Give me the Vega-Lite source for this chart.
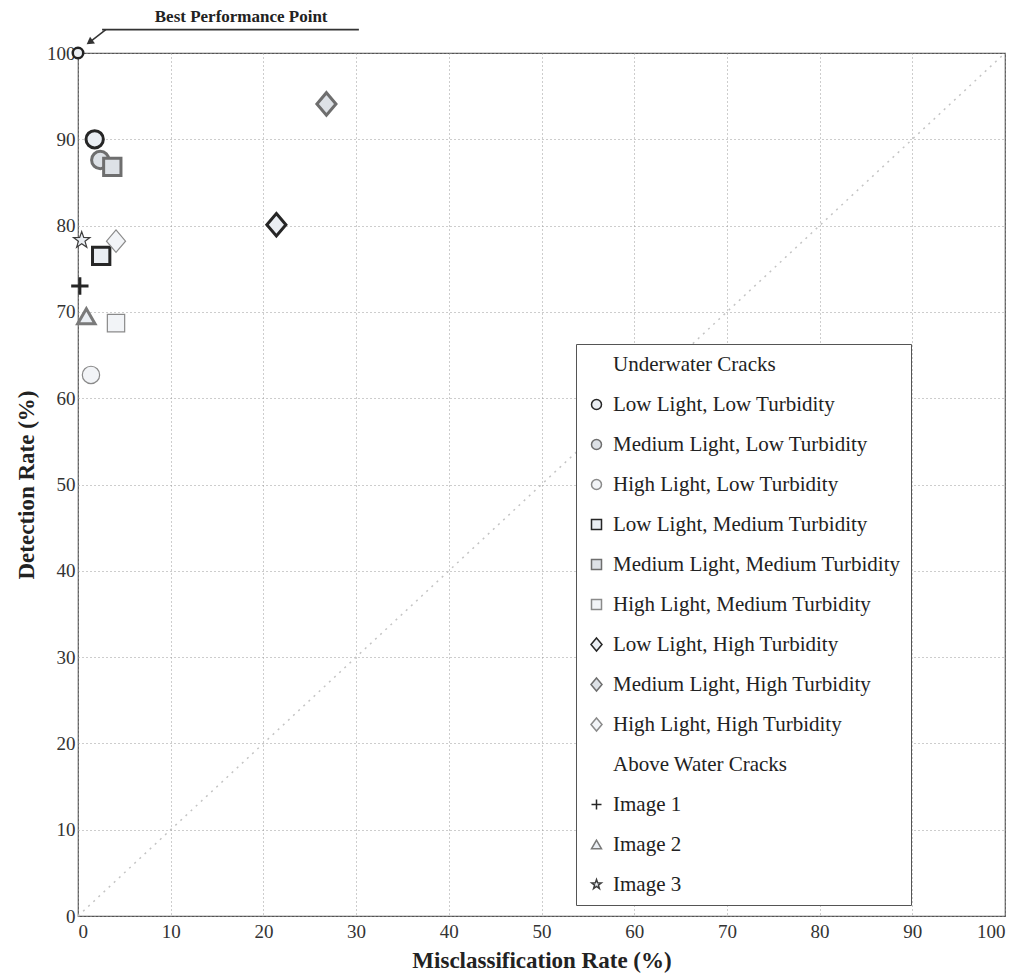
{
  "$schema": "https://vega.github.io/schema/vega-lite/v6.json",
  "width": 927,
  "height": 863,
  "autosize": "none",
  "padding": {"left": 78, "top": 53, "right": 18, "bottom": 62},
  "background": "white",
  "title": {"text": "ROC Space", "font": "Liberation Serif", "fontSize": 25, "fontWeight": "bold", "color": "#222", "anchor": "middle", "offset": 19},
  "config": {
    "view": {"stroke": "#555", "strokeWidth": 1.2},
    "axis": {"labelFont": "Liberation Serif", "titleFont": "Liberation Serif", "labelColor": "#333", "titleColor": "#222"},
    "legend": {
      "strokeColor": "#555", "fillColor": "white", "padding": 10,
      "labelFont": "Liberation Serif", "labelFontSize": 21, "labelColor": "#222",
      "rowPadding": 18, "labelOffset": 6, "labelLimit": 500
    }
  },
  "datasets": {
    "roc": [
      {"series": "Low Light, Low Turbidity", "mis": 1.8, "det": 90.0},
      {"series": "Medium Light, Low Turbidity", "mis": 2.4, "det": 87.6},
      {"series": "High Light, Low Turbidity", "mis": 1.4, "det": 62.7},
      {"series": "Low Light, Medium Turbidity", "mis": 2.5, "det": 76.5},
      {"series": "Medium Light, Medium Turbidity", "mis": 3.7, "det": 86.8},
      {"series": "High Light, Medium Turbidity", "mis": 4.1, "det": 68.7},
      {"series": "Low Light, High Turbidity", "mis": 21.4, "det": 80.1},
      {"series": "Medium Light, High Turbidity", "mis": 26.8, "det": 94.1},
      {"series": "High Light, High Turbidity", "mis": 4.1, "det": 78.2},
      {"series": "Image 1", "mis": 0.2, "det": 73.0},
      {"series": "Image 2", "mis": 0.9, "det": 69.5},
      {"series": "Image 3", "mis": 0.4, "det": 78.3}
    ]
  },
  "layer": [
    {
      "data": {"values": [{"mis": 0, "det": 0}, {"mis": 100, "det": 100}]},
      "mark": {"type": "line", "stroke": "#c4c4c4", "strokeWidth": 1.5, "strokeDash": [2, 5]},
      "encoding": {
        "x": {"field": "mis", "type": "quantitative", "scale": {"domain": [0, 100], "nice": false},
              "axis": {"orient": "bottom", "values": [0,10,20,30,40,50,60,70,80,90,100], "title": "Misclassification Rate (%)", "titleFontSize": 23, "titleFontWeight": "bold", "titlePadding": 8, "labelFontSize": 19, "labelPadding": 6, "grid": true, "gridDash": [1, 3], "gridColor": "#9a9a9a", "domain": false, "ticks": false}},
        "y": {"field": "det", "type": "quantitative", "scale": {"domain": [0, 100], "nice": false},
              "axis": {"orient": "left", "values": [0,10,20,30,40,50,60,70,80,90,100], "title": "Detection Rate (%)", "titleFontSize": 23, "titleFontWeight": "bold", "titlePadding": 8, "labelFontSize": 19, "labelPadding": 3, "grid": true, "gridDash": [1, 3], "gridColor": "#9a9a9a", "domain": false, "ticks": false}}
      }
    },
    {
      "data": {"values": [{"mis": 0, "det": 100}]},
      "mark": {"type": "point", "shape": "circle", "size": 110, "stroke": "#222", "strokeWidth": 2.5, "fill": "#eaeef3", "opacity": 1},
      "encoding": {
        "x": {"field": "mis", "type": "quantitative", "scale": {"domain": [0, 100], "nice": false}, "axis": null},
        "y": {"field": "det", "type": "quantitative", "scale": {"domain": [0, 100], "nice": false}, "axis": null}
      }
    },
    {
      "data": {"values": [{"mis": 17.6, "det": 104.2, "label": "Best Performance Point"}]},
      "mark": {"type": "text", "font": "Liberation Serif", "fontSize": 17, "fontWeight": "bold", "color": "#222", "align": "center", "baseline": "middle"},
      "encoding": {
        "x": {"field": "mis", "type": "quantitative", "scale": {"domain": [0, 100], "nice": false}, "axis": null},
        "y": {"field": "det", "type": "quantitative", "scale": {"domain": [0, 100], "nice": false}, "axis": null},
        "text": {"field": "label", "type": "nominal"}
      }
    },
    {
      "data": {"values": [{"mis": 2.6, "mis2": 30.3, "det": 102.7}]},
      "mark": {"type": "rule", "stroke": "#333", "strokeWidth": 1.8},
      "encoding": {
        "x": {"field": "mis", "type": "quantitative", "scale": {"domain": [0, 100], "nice": false}, "axis": null},
        "x2": {"field": "mis2"},
        "y": {"field": "det", "type": "quantitative", "scale": {"domain": [0, 100], "nice": false}, "axis": null}
      }
    },
    {
      "data": {"values": [{"mis": 3.0, "det": 102.7, "mis2": 1.3, "det2": 101.3}]},
      "mark": {"type": "rule", "stroke": "#333", "strokeWidth": 1.5},
      "encoding": {
        "x": {"field": "mis", "type": "quantitative", "scale": {"domain": [0, 100], "nice": false}, "axis": null},
        "y": {"field": "det", "type": "quantitative", "scale": {"domain": [0, 100], "nice": false}, "axis": null},
        "x2": {"field": "mis2"},
        "y2": {"field": "det2"}
      }
    },
    {
      "data": {"values": [{"mis": 1.25, "det": 101.25}]},
      "mark": {"type": "point", "shape": "triangle-up", "size": 70, "filled": true, "color": "#333", "angle": 234, "opacity": 1},
      "encoding": {
        "x": {"field": "mis", "type": "quantitative", "scale": {"domain": [0, 100], "nice": false}, "axis": null},
        "y": {"field": "det", "type": "quantitative", "scale": {"domain": [0, 100], "nice": false}, "axis": null}
      }
    },
    {
      "data": {"name": "roc"},
      "transform": [{"filter": "indexof(datum.series, 'High Light') !== 0 && datum.series !== 'Image 3'"}],
      "mark": {"type": "point", "size": 300, "opacity": 1, "strokeWidth": 3},
      "encoding": {
        "x": {"field": "mis", "type": "quantitative", "scale": {"domain": [0, 100], "nice": false}, "axis": null},
        "y": {"field": "det", "type": "quantitative", "scale": {"domain": [0, 100], "nice": false}, "axis": null},
        "shape": {"field": "series", "type": "nominal",
          "scale": {
            "domain": ["Underwater Cracks", "Low Light, Low Turbidity", "Medium Light, Low Turbidity", "High Light, Low Turbidity", "Low Light, Medium Turbidity", "Medium Light, Medium Turbidity", "High Light, Medium Turbidity", "Low Light, High Turbidity", "Medium Light, High Turbidity", "High Light, High Turbidity", "Above Water Cracks", "Image 1", "Image 2", "Image 3"],
            "range": ["circle", "circle", "circle", "circle", "square", "square", "square", "M0,-1.3L1.1,0L0,1.3L-1.1,0Z", "M0,-1.3L1.1,0L0,1.3L-1.1,0Z", "M0,-1.3L1.1,0L0,1.3L-1.1,0Z", "circle", "M-1,0H1M0,-1V1", "triangle-up", "M0,-1L0.235,-0.324L0.951,-0.309L0.38,0.124L0.588,0.809L0,0.4L-0.588,0.809L-0.38,0.124L-0.951,-0.309L-0.235,-0.324Z"]
          },
          "legend": {"title": null, "orient": "none", "legendX": 498, "legendY": 291}
        },
        "stroke": {"field": "series", "type": "nominal",
          "scale": {
            "domain": ["Underwater Cracks", "Low Light, Low Turbidity", "Medium Light, Low Turbidity", "High Light, Low Turbidity", "Low Light, Medium Turbidity", "Medium Light, Medium Turbidity", "High Light, Medium Turbidity", "Low Light, High Turbidity", "Medium Light, High Turbidity", "High Light, High Turbidity", "Above Water Cracks", "Image 1", "Image 2", "Image 3"],
            "range": ["white", "#262626", "#6e6e6e", "#8a8a8a", "#262626", "#6e6e6e", "#8a8a8a", "#262626", "#6e6e6e", "#8a8a8a", "white", "#262626", "#7a7a7a", "#3c3c3c"]
          },
          "legend": {"title": null, "orient": "none", "legendX": 498, "legendY": 291}
        },
        "fill": {"field": "series", "type": "nominal",
          "scale": {
            "domain": ["Underwater Cracks", "Low Light, Low Turbidity", "Medium Light, Low Turbidity", "High Light, Low Turbidity", "Low Light, Medium Turbidity", "Medium Light, Medium Turbidity", "High Light, Medium Turbidity", "Low Light, High Turbidity", "Medium Light, High Turbidity", "High Light, High Turbidity", "Above Water Cracks", "Image 1", "Image 2", "Image 3"],
            "range": ["white", "#eaeef3", "#dde1e6", "#f2f4f7", "#eaeef3", "#dde1e6", "#f2f4f7", "#eaeef3", "#dde1e6", "#f2f4f7", "white", "#262626", "#eaeef3", "#eaeef3"]
          },
          "legend": {"title": null, "orient": "none", "legendX": 498, "legendY": 291}
        }
      }
    },
    {
      "data": {"name": "roc"},
      "transform": [{"filter": "indexof(datum.series, 'High Light') === 0 || datum.series === 'Image 3'"}],
      "mark": {"type": "point", "size": 300, "opacity": 1, "strokeWidth": 1.2},
      "encoding": {
        "x": {"field": "mis", "type": "quantitative", "scale": {"domain": [0, 100], "nice": false}, "axis": null},
        "y": {"field": "det", "type": "quantitative", "scale": {"domain": [0, 100], "nice": false}, "axis": null},
        "shape": {"field": "series", "type": "nominal",
          "scale": {
            "domain": ["Underwater Cracks", "Low Light, Low Turbidity", "Medium Light, Low Turbidity", "High Light, Low Turbidity", "Low Light, Medium Turbidity", "Medium Light, Medium Turbidity", "High Light, Medium Turbidity", "Low Light, High Turbidity", "Medium Light, High Turbidity", "High Light, High Turbidity", "Above Water Cracks", "Image 1", "Image 2", "Image 3"],
            "range": ["circle", "circle", "circle", "circle", "square", "square", "square", "M0,-1.3L1.1,0L0,1.3L-1.1,0Z", "M0,-1.3L1.1,0L0,1.3L-1.1,0Z", "M0,-1.3L1.1,0L0,1.3L-1.1,0Z", "circle", "M-1,0H1M0,-1V1", "triangle-up", "M0,-1L0.235,-0.324L0.951,-0.309L0.38,0.124L0.588,0.809L0,0.4L-0.588,0.809L-0.38,0.124L-0.951,-0.309L-0.235,-0.324Z"]
          },
          "legend": {"title": null, "orient": "none", "legendX": 498, "legendY": 291}
        },
        "stroke": {"field": "series", "type": "nominal",
          "scale": {
            "domain": ["Underwater Cracks", "Low Light, Low Turbidity", "Medium Light, Low Turbidity", "High Light, Low Turbidity", "Low Light, Medium Turbidity", "Medium Light, Medium Turbidity", "High Light, Medium Turbidity", "Low Light, High Turbidity", "Medium Light, High Turbidity", "High Light, High Turbidity", "Above Water Cracks", "Image 1", "Image 2", "Image 3"],
            "range": ["white", "#262626", "#6e6e6e", "#8a8a8a", "#262626", "#6e6e6e", "#8a8a8a", "#262626", "#6e6e6e", "#8a8a8a", "white", "#262626", "#7a7a7a", "#3c3c3c"]
          },
          "legend": {"title": null, "orient": "none", "legendX": 498, "legendY": 291}
        },
        "fill": {"field": "series", "type": "nominal",
          "scale": {
            "domain": ["Underwater Cracks", "Low Light, Low Turbidity", "Medium Light, Low Turbidity", "High Light, Low Turbidity", "Low Light, Medium Turbidity", "Medium Light, Medium Turbidity", "High Light, Medium Turbidity", "Low Light, High Turbidity", "Medium Light, High Turbidity", "High Light, High Turbidity", "Above Water Cracks", "Image 1", "Image 2", "Image 3"],
            "range": ["white", "#eaeef3", "#dde1e6", "#f2f4f7", "#eaeef3", "#dde1e6", "#f2f4f7", "#eaeef3", "#dde1e6", "#f2f4f7", "white", "#262626", "#eaeef3", "#eaeef3"]
          },
          "legend": {"title": null, "orient": "none", "legendX": 498, "legendY": 291}
        }
      }
    }
  ],
  "resolve": {"axis": {"x": "independent", "y": "independent"}}
}
